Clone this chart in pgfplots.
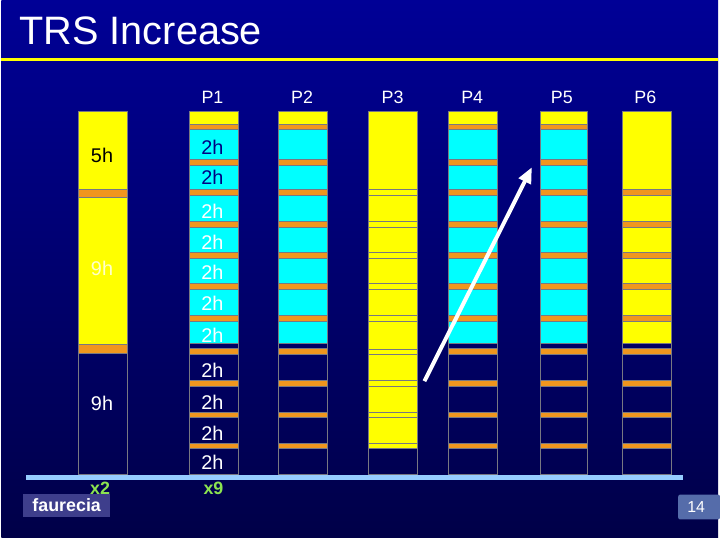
\documentclass[border=0pt]{standalone}
\usepackage{pgfplots}
\pgfplotsset{compat=1.18}
\usepackage{fontspec}
\setmainfont{Liberation Sans}
\usetikzlibrary{arrows.meta}
\definecolor{bgtop}{RGB}{0,0,150}
\definecolor{bgbot}{RGB}{0,0,72}
\definecolor{yel}{RGB}{255,255,0}
\definecolor{cy}{RGB}{0,255,255}
\definecolor{org}{RGB}{240,150,30}
\definecolor{segline}{RGB}{120,120,130}
\definecolor{base}{RGB}{150,205,255}
\definecolor{grn}{RGB}{140,228,80}
\definecolor{logobg}{RGB}{62,62,140}
\definecolor{pgbg}{RGB}{85,108,170}
\definecolor{navytxt}{RGB}{0,0,130}
\definecolor{paleyel}{RGB}{255,255,205}

% segment lists: top/bottom (pixel rows) / fill
\def\stdlist{112/125/yel,125/130/org,130/160/cy,160/166/org,166/190/cy,190/196/org,196/222/cy,222/228/org,228/254/cy,254/260/org,260/285/cy,285/291/org,291/317/cy,317/323/org,323/345/cy,345/350/none,350/356/org,356/382/none,382/388/org,388/414/none,414/419/org,419/446/none,446/451/org,451/477/none}
\def\sixlist{112/190/yel,190/196/org,196/222/yel,222/228/org,228/254/yel,254/260/org,260/285/yel,285/291/org,291/317/yel,317/323/org,323/345/yel,345/350/none,350/356/org,356/382/none,382/388/org,388/414/none,414/419/org,419/446/none,446/451/org,451/477/none}
\def\threelist{112/190/yel,190/196/yel,196/222/yel,222/228/yel,228/254/yel,254/260/yel,260/285/yel,285/291/yel,291/317/yel,317/323/yel,323/351/yel,351/356/yel,356/382/yel,382/388/yel,388/414/yel,414/419/yel,419/446/yel,446/451/yel,451/477/none}
\def\onelist{112/190/yel,190/198/org,198/346/yel,346/355/org,355/477/none}

\newcommand{\seg}[5]{%
  \edef\tmp{\noexpand\addplot[draw=segline, line width=0.7bp, fill=#5] coordinates {(#1,#3) (#2,#3) (#2,#4) (#1,#4)} -- cycle;}\tmp}
\newcommand{\lab}[4]{% x y color text
  \edef\tmp{\noexpand\node[text=#3, font=\noexpand\fontsize{20}{20}\noexpand\selectfont] at (#1,#2) {#4};}\tmp}
\newcommand{\hdr}[2]{%
  \edef\tmp{\noexpand\node[anchor=base, text=white, font=\noexpand\fontsize{18}{18}\noexpand\selectfont] at (#1,104) {#2};}\tmp}

\begin{document}
\begin{tikzpicture}
\begin{axis}[
  scale only axis, width=720bp, height=540bp,
  xmin=0, xmax=720, ymin=0, ymax=540, y dir=reverse,
  hide axis, clip=false]
  \shade[top color=bgtop, bottom color=bgbot] (0,0) rectangle (720,540);
  % title
  \node[anchor=base west, text=white, font=\fontsize{40}{40}\selectfont, inner xsep=0pt] at (18,45) {TRS Increase};
  \draw[yel, line width=3bp] (0,60) -- (720,60);
  % columns
  \foreach \a/\b/\c in \onelist {\seg{77}{126}{\a}{\b}{\c}}
  \foreach \xl/\xr in {189/238,278/327,449/498,541/589}{%
    \foreach \a/\b/\c in \stdlist {\seg{\xl}{\xr}{\a}{\b}{\c}}}
  \foreach \a/\b/\c in \threelist {\seg{369}{418}{\a}{\b}{\c}}
  \foreach \a/\b/\c in \sixlist {\seg{624}{673}{\a}{\b}{\c}}
  % base line
  \addplot[base, line width=4.5bp] coordinates {(25,480) (685,480)};
  % arrow
  \addplot[white, line width=4bp, -{Triangle[length=16bp,width=13bp]}] coordinates {(425,383) (533,168)};
  % headers
  \foreach \x/\t in {212/P1,302/P2,393/P3,473/P4,563/P5,647/P6} {\hdr{\x}{\t}}
  % labels column 1
  \lab{101}{156}{black}{5h}
  \lab{101}{270}{paleyel}{9h}
  \lab{101}{405}{white}{9h}
  % labels P1
  \foreach \y in {148,178} {\lab{212}{\y}{navytxt}{2h}}
  \foreach \y in {212,243,274,305,337,372,404,435,465} {\lab{212}{\y}{white}{2h}}
  \node[text=grn, font=\bfseries\fontsize{18}{18}\selectfont] at (99,491) {x2};
  \node[text=grn, font=\bfseries\fontsize{18}{18}\selectfont] at (213,491) {x9};
  % logo
  \fill[logobg] (22,496) rectangle (109,520);
  \node[text=white, font=\bfseries\fontsize{18}{18}\selectfont] at (65.5,508) {faurecia};
  % page number
  \fill[pgbg, rounded corners=2bp] (680,497) rectangle (722,522);
  \fill[pgbg] (700,497) rectangle (720,522);
  \node[text=white, font=\fontsize{16}{16}\selectfont] at (698,510) {14};
\end{axis}
\end{tikzpicture}
\end{document}
